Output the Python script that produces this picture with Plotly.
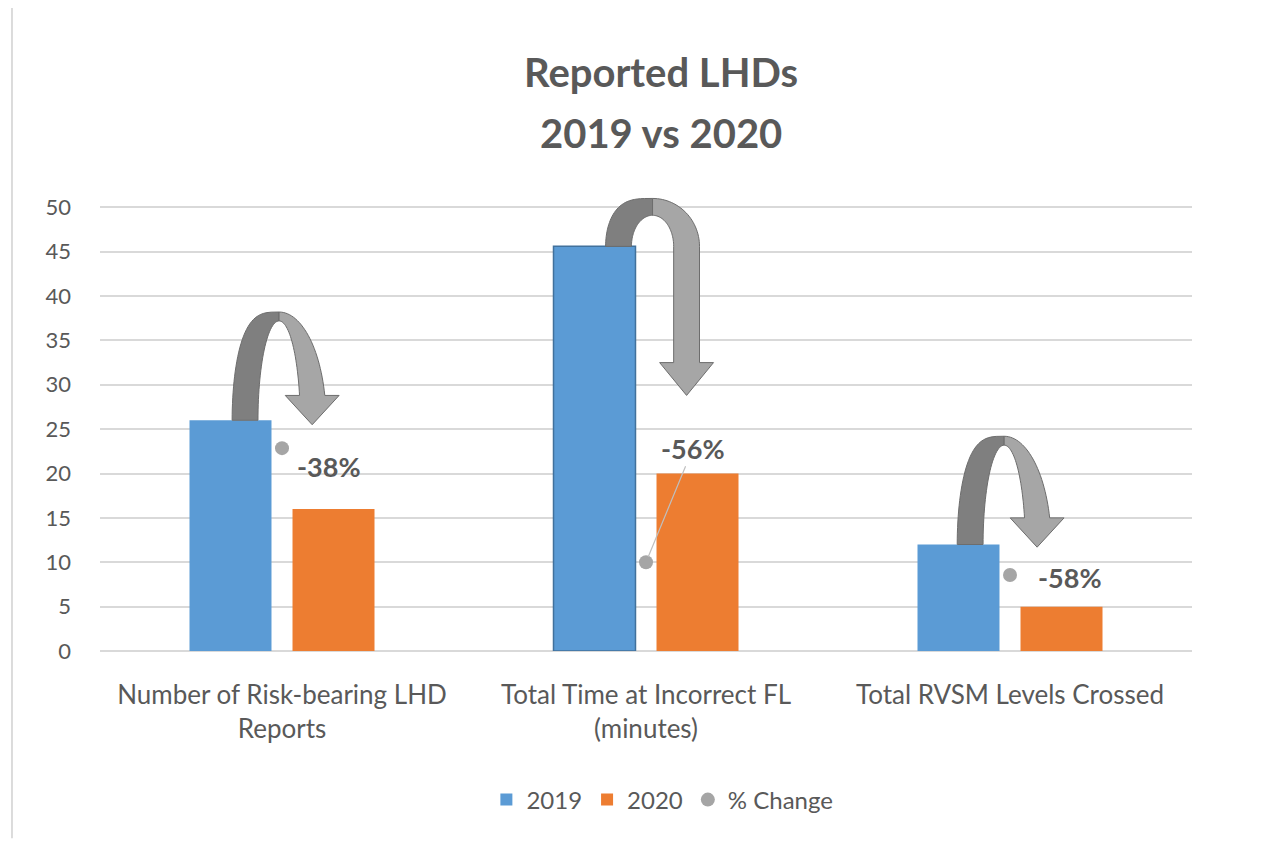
import math
import plotly.graph_objects as go

# ---- data ----
categories = ["Number of Risk-bearing LHD<br>Reports",
              "Total Time at Incorrect FL<br>(minutes)",
              "Total RVSM Levels Crossed"]
values_2019 = [26, 45.6, 12]
values_2020 = [16, 20, 5]
pct_change = [-0.38, -0.56, -0.58]
pct_labels = ["-38%", "-56%", "-58%"]
y_ticks = [0, 5, 10, 15, 20, 25, 30, 35, 40, 45, 50]

xpos = list(range(len(categories)))

BLUE = "#5b9bd5"
ORANGE = "#ed7d31"
GRAY = "#a5a5a5"
TXT = "#595959"
FONT = "Lato, Open Sans, sans-serif"

fig = go.Figure()
fig.add_trace(go.Bar(x=xpos, y=values_2019, name="2019", marker=dict(
    color=BLUE, line=dict(color=["rgba(0,0,0,0)", "#41719c", "rgba(0,0,0,0)"], width=1.5))))
fig.add_trace(go.Bar(x=xpos, y=values_2020, name="2020", marker=dict(color=ORANGE, line=dict(width=0))))
fig.add_trace(go.Scatter(x=xpos, y=pct_change, name="% Change", mode="markers", yaxis="y2",
                         marker=dict(color=GRAY, size=14)))

# data labels for % change
label_offsets = [(47, 18, False), (47, -114, True), (60, 3, False)]
for xi, v, lab, (dx, dy, arrow) in zip(xpos, pct_change, pct_labels, label_offsets):
    if arrow:
        fig.add_annotation(x=xi, y=v, xref="x", yref="y2", text=f"<b>{lab}</b>", showarrow=True,
                           ax=dx, ay=dy, arrowhead=0, arrowwidth=1.2, arrowcolor="#bfbfbf",
                           font=dict(size=27, color=TXT, family=FONT), standoff=6)
    else:
        fig.add_annotation(x=xi, y=v, xref="x", yref="y2", text=f"<b>{lab}</b>", showarrow=False,
                           xshift=dx, yshift=-dy, font=dict(size=27, color=TXT, family=FONT))

# ---- decorative curved arrows (from 2019 bar top curling down toward 2020 bar) ----
# (centre offset, rise above bar top, head-base y, tip y, band thickness at top)
arrow_geom = [
    (-0.008, 12.2, 28.8, 25.5, 1.0),
    (0.018, 5.4, 32.5, 28.8, 1.9),
    (-0.016, 12.2, 15.0, 11.7, 1.0),
]
AO, AI, HW = 0.129, 0.058, 0.074
N = 30
for xi, base, (xoff, rise, hb, tip, bt) in zip(xpos, values_2019, arrow_geom):
    xm, yc = xi + xoff, base
    bo, bi = rise, rise - bt

    def outer(t, p=1.0):
        c = math.cos(t)
        return (xm + AO * math.copysign(abs(c) ** p, c), yc + bo * math.sin(t))

    def inner(t):
        return (xm + AI * math.cos(t), yc + bi * math.sin(t))

    # dark rising half (outer edge a little squarer)
    pts_l = [outer(math.pi - (math.pi / 2) * k / N, 0.6) for k in range(N + 1)]
    pts_l += [inner(math.pi / 2 + (math.pi / 2) * k / N) for k in range(N + 1)]
    # light descending half + arrow head
    if hb >= yc:
        to = math.asin(min((hb - yc) / bo, 1))
        ti = math.asin(min((hb - yc) / bi, 1))
        o_pts = [outer(math.pi / 2 - (math.pi / 2 - to) * k / N) for k in range(N + 1)]
        i_pts = [inner(ti + (math.pi / 2 - ti) * k / N) for k in range(N + 1)]
        xo, xin = o_pts[-1][0], i_pts[0][0]
    else:
        o_pts = [outer(math.pi / 2 - (math.pi / 2) * k / N) for k in range(N + 1)] + [(xm + AO, hb)]
        i_pts = [(xm + AI, hb)] + [inner((math.pi / 2) * k / N) for k in range(N + 1)]
        xo, xin = xm + AO, xm + AI
    xc = (xo + xin) / 2
    pts_r = o_pts + [(xc + HW, hb), (xc, tip), (xc - HW, hb)] + i_pts
    for pts, col in ((pts_l, "#7f7f7f"), (pts_r, "#a6a6a6")):
        path = "M " + " L ".join(f"{px:.4f},{py:.4f}" for px, py in pts) + " Z"
        fig.add_shape(type="path", path=path, xref="x", yref="y", fillcolor=col,
                      line=dict(color="#6d6d6d", width=1), layer="above")

# left border line of the original image
fig.add_shape(type="line", xref="paper", yref="paper", x0=-0.0806, x1=-0.0806, y0=-0.41, y1=1.45,
              line=dict(color="#d0d0d0", width=1.5))

# title (two lines)
fig.add_annotation(text="<b>Reported LHDs</b>", xref="paper", yref="paper", x=0.5137, y=1.267,
                   xanchor="center", yanchor="middle", showarrow=False,
                   font=dict(size=40, color=TXT, family=FONT))
fig.add_annotation(text="<b>2019 vs 2020</b>", xref="paper", yref="paper", x=0.5137, y=1.1335,
                   xanchor="center", yanchor="middle", showarrow=False,
                   font=dict(size=40, color=TXT, family=FONT))

fig.update_layout(
    width=1266, height=841,
    paper_bgcolor="white", plot_bgcolor="white",
    margin=dict(l=92, r=82, t=186, b=198, autoexpand=False),
    barmode="group", bargap=0.434, bargroupgap=0.204,
    showlegend=True,
    legend=dict(orientation="h", x=0.515, xanchor="center", y=-0.326, yanchor="middle",
                font=dict(size=24, color=TXT, family=FONT), traceorder="normal"),
    xaxis=dict(range=[-0.5, 2.5], tickvals=xpos, ticktext=categories, showgrid=False,
               zeroline=False, showline=False, ticks="", tickfont=dict(size=26, color=TXT, family=FONT),
               ticklabelstandoff=26),
    yaxis=dict(range=[0, 51.5], tickvals=y_ticks, showgrid=True, gridcolor="#d9d9d9", gridwidth=1.5,
               zeroline=True, zerolinecolor="#d9d9d9", zerolinewidth=1.5, ticks="",
               tickfont=dict(size=22, color=TXT, family=FONT), ticklabelstandoff=28),
    yaxis2=dict(range=[-0.7, 0.021], overlaying="y", side="right", visible=False),
)

fig.write_html("out.html")
